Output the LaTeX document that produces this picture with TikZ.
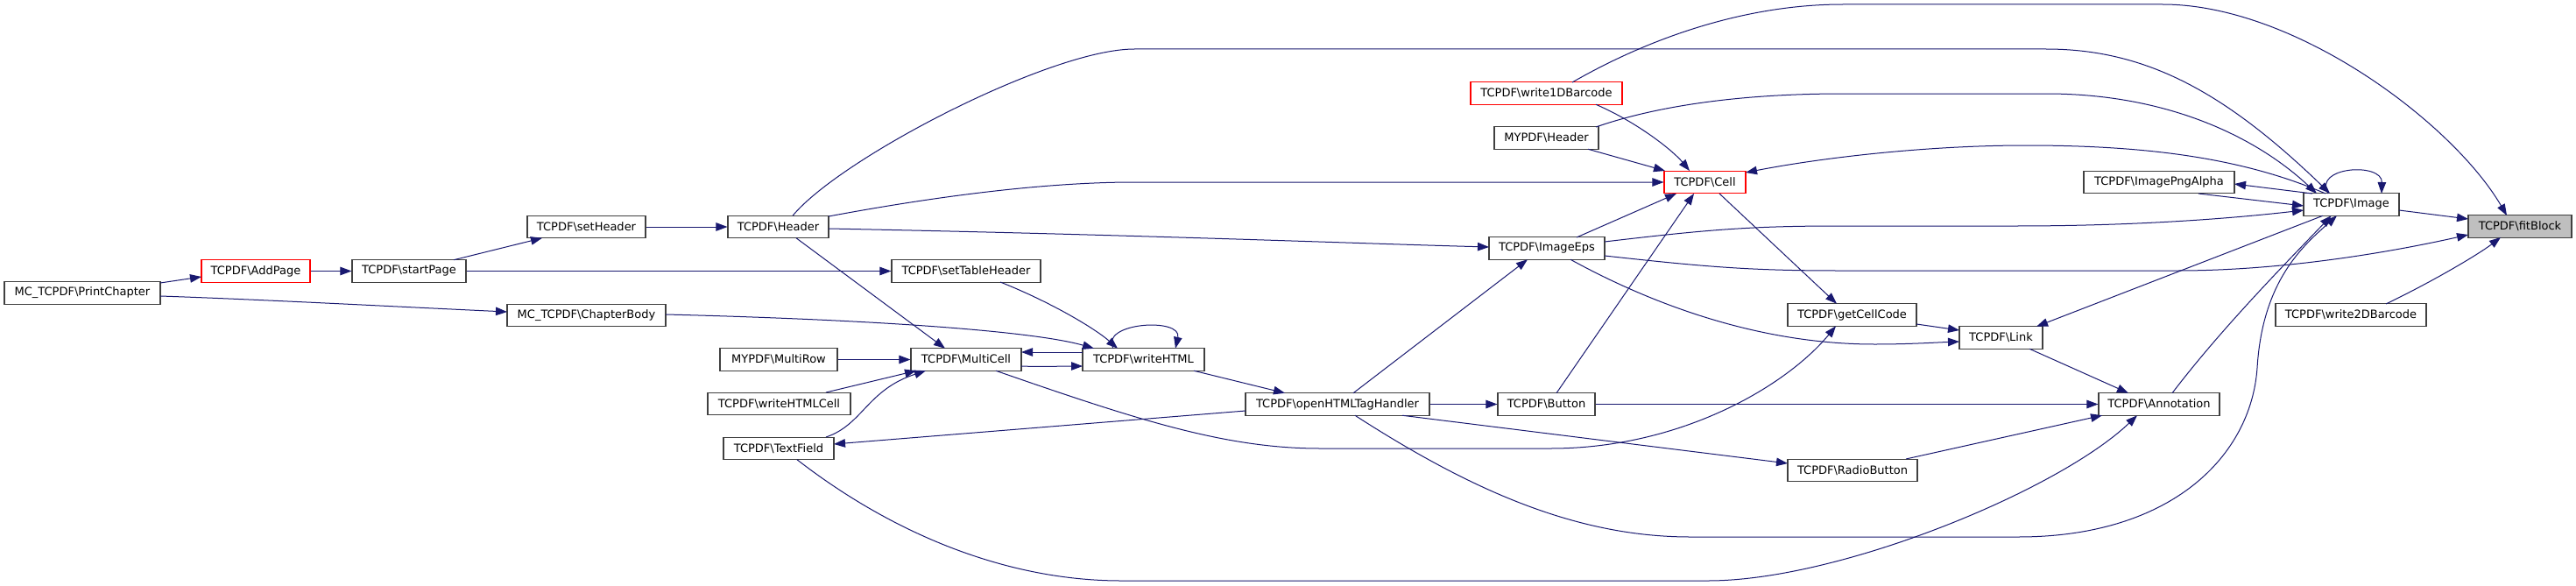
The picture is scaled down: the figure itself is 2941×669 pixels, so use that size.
\documentclass[tikz,border=0pt]{standalone}
\usepackage{fontspec}
\setmainfont{DejaVu Sans}
\usetikzlibrary{arrows.meta,calc}
\definecolor{edgeblue}{HTML}{191970}
\definecolor{boxgrey}{HTML}{404040}
\definecolor{curgrey}{HTML}{BFBFBF}
\tikzset{
  fn/.style={draw=boxgrey, fill=white, line width=1.1pt, minimum height=25.5pt, inner sep=0pt, text=black, font=\fontsize{13}{15}\selectfont},
  fnred/.style={fn, draw=red},
  fncur/.style={fn, fill=curgrey},
  ed/.style={draw=edgeblue, line width=1pt, -{Triangle[length=13pt,width=9.5pt]}},
}
\begin{document}
\begin{tikzpicture}[x=1pt,y=-1pt]
\useasboundingbox (0,0) rectangle (2941,669);
\fill[white] (0,0) rectangle (2941,669);
% nodes
\node[fn, minimum width=178pt] (pc) at (94,334.5) {MC\_TCPDF\textbackslash PrintChapter};
\node[fnred, minimum width=124pt] (ap) at (292,309.5) {TCPDF\textbackslash AddPage};
\node[fn, minimum width=130pt] (sp) at (467,309.5) {TCPDF\textbackslash startPage};
\node[fn, minimum width=135pt] (sh) at (669.5,259) {TCPDF\textbackslash setHeader};
\node[fn, minimum width=181pt] (cb) at (669.5,360) {MC\_TCPDF\textbackslash ChapterBody};
\node[fn, minimum width=115pt] (hd) at (888.5,259) {TCPDF\textbackslash Header};
\node[fn, minimum width=170pt] (sth) at (1103,309.5) {TCPDF\textbackslash setTableHeader};
\node[fn, minimum width=134pt] (mr) at (889,410.5) {MYPDF\textbackslash MultiRow};
\node[fn, minimum width=163pt] (whc) at (889.5,461) {TCPDF\textbackslash writeHTMLCell};
\node[fn, minimum width=126pt] (tf) at (889,512) {TCPDF\textbackslash TextField};
\node[fn, minimum width=126pt] (mc) at (1103,410.5) {TCPDF\textbackslash MultiCell};
\node[fn, minimum width=139pt] (wh) at (1305.5,410.5) {TCPDF\textbackslash writeHTML};
\node[fn, minimum width=210pt] (oh) at (1527,461.5) {TCPDF\textbackslash openHTMLTagHandler};
\node[fnred, minimum width=173pt] (w1) at (1765.5,106.5) {TCPDF\textbackslash write1DBarcode};
\node[fn, minimum width=119pt] (mh) at (1765.5,157.5) {MYPDF\textbackslash Header};
\node[fn, minimum width=132pt] (ie) at (1766,283.5) {TCPDF\textbackslash ImageEps};
\node[fn, minimum width=111pt] (bt) at (1765.5,461.5) {TCPDF\textbackslash Button};
\node[fnred, minimum width=93pt] (cl) at (1946.5,208) {TCPDF\textbackslash Cell};
\node[fn, minimum width=147pt] (gc) at (2114.5,359.5) {TCPDF\textbackslash getCellCode};
\node[fn, minimum width=148pt] (rb) at (2115,537) {TCPDF\textbackslash RadioButton};
\node[fn, minimum width=95pt] (lk) at (2284.5,385.5) {TCPDF\textbackslash Link};
\node[fn, minimum width=138pt] (an) at (2465,461.5) {TCPDF\textbackslash Annotation};
\node[fn, minimum width=172pt] (ipa) at (2465,208) {TCPDF\textbackslash ImagePngAlpha};
\node[fn, minimum width=109pt] (im) at (2684.5,233.5) {TCPDF\textbackslash Image};
\node[fn, minimum width=172pt] (w2) at (2684,359.5) {TCPDF\textbackslash write2DBarcode};
\node[fncur, minimum width=118pt] (fb) at (2877,258.5) {TCPDF\textbackslash fitBlock};
% edges
\draw[ed] ($(pc)+(89,-11.5)$) -- ($(ap)+(-62,6.5)$);
\draw[ed] ($(pc)+(89,3.5)$) .. controls (300,342) and (450,350) .. ($(cb)+(-90.5,-4)$);
\draw[ed] (ap.east) -- (sp.west);
\draw[ed] ($(sp)+(51,-12.75)$) -- ($(sh)+(-50.5,12.75)$);
\draw[ed] (sp.east) -- (sth.west);
\draw[ed] (sh.east) -- (hd.west);
\draw[ed] ($(cb)+(90.5,-1)$) .. controls (1000,365) and (1180,378) .. ($(wh)+(-56.5,-12.75)$);
\draw[ed] ($(hd)+(16.5,-12.75)$) .. controls (960,180) and (1200,56) .. (1295,56) -- (2336,56) .. controls (2450,56) and (2540,105) .. ($(im)+(-24.5,-12.75)$);
\draw[ed] ($(hd)+(57.5,-12)$) .. controls (1080,222) and (1200,208) .. (1295,208) -- (cl.west);
\draw[ed] ($(hd)+(57.5,2)$) .. controls (1300,268) and (1550,278) .. ($(ie)+(-66,-1.5)$);
\draw[ed] ($(hd)+(20.5,12.75)$) -- ($(mc)+(-24,-12.75)$);
\draw[ed] ($(sth)+(39,12.5)$) .. controls (1200,345) and (1250,375) .. ($(wh)+(-29.5,-12.75)$);
\draw[ed] ($(wh)+(-34.5,-12.75)$) .. controls (1255,368) and (1350,362) .. ($(wh)+(36.5,-12.75)$);
\draw[ed] ($(wh)+(-69.5,-8.5)$) -- ($(mc)+(63,-8.5)$);
\draw[ed] ($(mc)+(63,7.5)$) .. controls (1190,419) and (1210,418) .. ($(wh)+(-69.5,7.5)$);
\draw[ed] (mr.east) -- (mc.west);
\draw[ed] ($(whc)+(53.5,-13)$) -- ($(mc)+(-57,12.75)$);
\draw[ed] ($(tf)+(54,-13)$) .. controls (985,485) and (990,445) .. ($(mc)+(-46,12.75)$);
\draw[ed] ($(mc)+(34,12.75)$) .. controls (1300,480) and (1400,512) .. (1507,512) -- (1770,512) .. controls (1920,512) and (2040,440) .. ($(gc)+(-18.5,12.75)$);
\draw[ed] ($(wh)+(57.5,12.75)$) -- ($(oh)+(-60,-12.75)$);
\draw[ed] ($(oh)+(-105,7.5)$) -- ($(tf)+(63,-5)$);
\draw[ed] ($(tf)+(21,12.75)$) .. controls (1020,610) and (1150,663) .. (1280,663) -- (1950,663) .. controls (2100,663) and (2350,560) .. ($(an)+(-25,12.75)$);
\draw[ed] ($(oh)+(18,-12.75)$) -- ($(ie)+(-22,12.75)$);
\draw[ed] (oh.east) -- (bt.west);
\draw[ed] ($(oh)+(74,12.75)$) -- ($(rb)+(-74,-8)$);
\draw[ed] ($(oh)+(20,12.75)$) .. controls (1680,560) and (1800,613) .. (1930,613) -- (2304,613) .. controls (2480,613) and (2570,520) .. (2577,420) .. controls (2583,320) and (2630,280) .. ($(im)+(-16.5,12.75)$);
\draw[ed] ($(an)+(15,-12.75)$) .. controls (2540,370) and (2620,290) .. ($(im)+(-23,12.75)$);
\draw[ed] (bt.east) -- (an.west);
\draw[ed] ($(bt)+(11.5,-12.75)$) -- ($(cl)+(-12.5,13)$);
\draw[ed] ($(ie)+(34,-12.5)$) -- ($(cl)+(-32.5,13)$);
\draw[ed] ($(rb)+(61,-13)$) -- ($(an)+(-65,12.75)$);
\draw[ed] ($(lk)+(32.5,12.75)$) -- ($(an)+(-35,-12.75)$);
\draw[ed] ($(gc)+(73.5,10.5)$) -- ($(lk)+(-47.5,-8.5)$);
\draw[ed] ($(ie)+(27,12.75)$) .. controls (1900,355) and (2020,393) .. (2140,393) .. controls (2180,393) and (2210,391) .. ($(lk)+(-47.5,4.5)$);
\draw[ed] ($(im)+(-32.5,12.75)$) -- ($(lk)+(40.5,-12.75)$);
\draw[ed] ($(cl)+(16.5,13)$) -- ($(gc)+(-17.5,-12.75)$);
\draw[ed] ($(w1)+(56.5,12.75)$) .. controls (1870,140) and (1910,172) .. ($(cl)+(-17.5,-13)$);
\draw[ed] ($(mh)+(47.5,12.75)$) -- ($(cl)+(-45.5,-13)$);
\draw[ed] ($(w1)+(29.5,-12.5)$) .. controls (1880,45) and (1990,5) .. (2104,5) -- (2469,5) .. controls (2620,5) and (2800,140) .. ($(fb)+(-15,-12.5)$);
\draw[ed] ($(mh)+(56.5,-12.5)$) .. controls (1900,118) and (2000,107) .. (2104,107) -- (2336,107) .. controls (2480,107) and (2580,160) .. ($(im)+(-39.5,-12.5)$);
\draw[ed] ($(im)+(-29.5,-12.5)$) .. controls (2560,180) and (2450,166) .. (2313,166) .. controls (2200,166) and (2080,180) .. ($(cl)+(46.5,-11)$);
\draw[ed] ($(im)+(-44.5,-12.5)$) -- ($(ipa)+(86,2)$);
\draw[ed] ($(ipa)+(45,13)$) -- ($(im)+(-54.5,1.5)$);
\draw[ed] ($(ie)+(66,-7.5)$) .. controls (1950,262) and (2000,258) .. (2100,258) -- (2300,258) .. controls (2450,258) and (2560,248) .. ($(im)+(-54.5,6.5)$);
\draw[ed] ($(ie)+(66,8.5)$) .. controls (1950,305) and (2000,309) .. (2100,309) -- (2486,309) .. controls (2600,309) and (2720,290) .. ($(fb)+(-59,9.5)$);
\draw[ed] ($(im)+(54.5,6.5)$) -- ($(fb)+(-59,-8.5)$);
\draw[ed] ($(w2)+(40,-12.5)$) .. controls (2780,320) and (2830,290) .. ($(fb)+(-22,12.5)$);
\draw[ed] ($(im)+(-26.5,-12.5)$) .. controls (2640,190) and (2720,185) .. ($(im)+(34.5,-12.5)$);
\end{tikzpicture}
\end{document}
